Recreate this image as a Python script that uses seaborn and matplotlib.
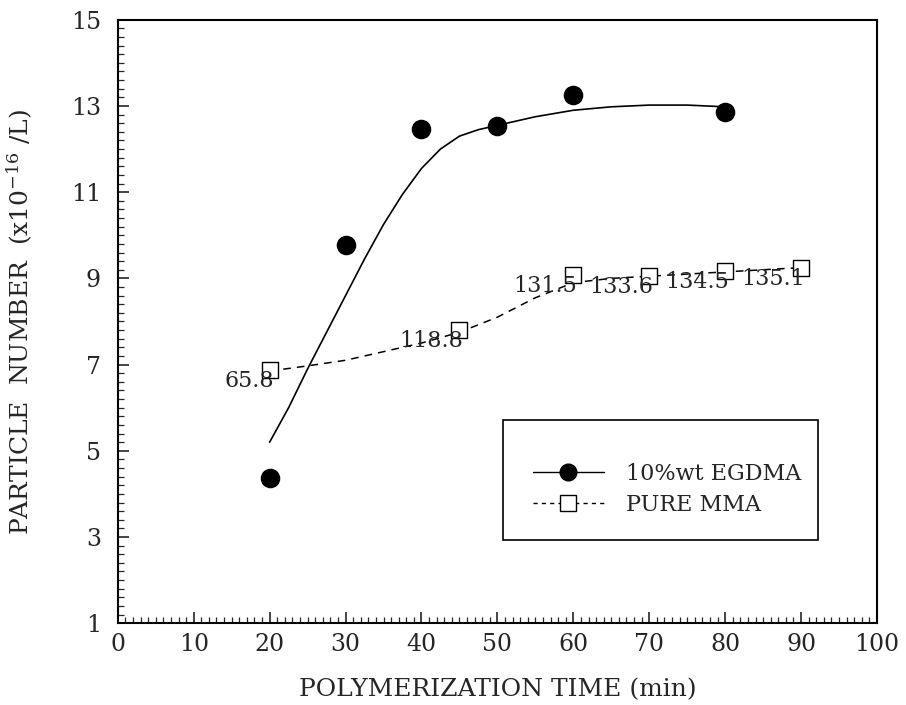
import matplotlib
matplotlib.use("Agg")
import matplotlib.pyplot as plt
import seaborn as sns
import pandas as pd
from matplotlib.ticker import MultipleLocator
from matplotlib.patches import Rectangle
from matplotlib.lines import Line2D

# ---- data ----
egdma_time = [20, 30, 40, 50, 60, 80]
egdma_number = [4.37, 9.78, 12.47, 12.54, 13.26, 12.86]

egdma_fit_time = [20, 22.5, 25, 27.5, 30, 32.5, 35, 37.5, 40, 42.5, 45, 47.5, 50, 55, 60, 65, 70, 75, 80]
egdma_fit_number = [5.2, 6.0, 6.9, 7.75, 8.6, 9.45, 10.25, 10.95, 11.55, 12.0, 12.3, 12.45, 12.55,
                    12.75, 12.9, 12.98, 13.02, 13.02, 12.98]

mma_time = [20, 45, 60, 70, 80, 90]
mma_number = [6.87, 7.8, 9.08, 9.05, 9.17, 9.24]
mma_labels = ["65.8", "118.8", "131.5", "133.6", "134.5", "135.1"]

mma_fit_time = [20, 25, 30, 35, 40, 45, 50, 55, 60, 65, 70, 75, 80, 85, 90]
mma_fit_number = [6.85, 6.97, 7.1, 7.3, 7.5, 7.75, 8.1, 8.55, 8.9, 9.0, 9.05, 9.1, 9.15, 9.2, 9.25]

x_ticks = [0, 10, 20, 30, 40, 50, 60, 70, 80, 90, 100]
y_ticks = [1, 3, 5, 7, 9, 11, 13, 15]

series_names = ["10%wt EGDMA", "PURE MMA"]

# ---- plotting ----
sns.set_style("ticks")
plt.rcParams["font.family"] = ["DejaVu Serif"]
plt.rcParams["mathtext.fontset"] = "dejavuserif"

fig = plt.figure(figsize=(9.06, 7.05), dpi=100)
ax = fig.add_axes([0.130, 0.116, 0.838, 0.856])

df_e = pd.DataFrame({"t": egdma_time, "n": egdma_number})
df_ef = pd.DataFrame({"t": egdma_fit_time, "n": egdma_fit_number})
df_m = pd.DataFrame({"t": mma_time, "n": mma_number})
df_mf = pd.DataFrame({"t": mma_fit_time, "n": mma_fit_number})

sns.lineplot(data=df_ef, x="t", y="n", ax=ax, color="black", linewidth=1.2, sort=False)
sns.lineplot(data=df_mf, x="t", y="n", ax=ax, color="black", linewidth=1.1, sort=False,
             linestyle=(0, (5, 4)))
sns.scatterplot(data=df_e, x="t", y="n", ax=ax, color="black", s=170, marker="o",
                edgecolor="black", zorder=5)
sns.scatterplot(data=df_m, x="t", y="n", ax=ax, facecolor="white", s=140, marker="s",
                edgecolor="black", linewidth=1.0, zorder=5)

for t, n, lab in zip(mma_time, mma_number, mma_labels):
    ax.annotate(lab, (t, n), xytext=(3, -8), textcoords="offset points",
                ha="right", va="center", fontsize=16, zorder=6)

ax.set_xlim(0, 100)
ax.set_ylim(1, 15)
ax.set_xticks(x_ticks)
ax.set_yticks(y_ticks)
ax.xaxis.set_minor_locator(MultipleLocator(1))
ax.yaxis.set_minor_locator(MultipleLocator(0.2))
ax.tick_params(axis="both", which="major", direction="in", length=8, width=1.2,
               labelsize=17, top=False, right=False, pad=7)
ax.tick_params(axis="y", which="major", pad=12)
ax.tick_params(axis="both", which="minor", direction="in", length=4, width=0.9,
               top=False, right=False)
for sp in ax.spines.values():
    sp.set_linewidth(1.5)
    sp.set_color("black")

ax.set_xlabel("POLYMERIZATION TIME (min)", fontsize=18, labelpad=16)
ax.set_ylabel("PARTICLE  NUMBER  (x10$^{\\mathregular{-16}}$ /L)", fontsize=18, labelpad=26)

# legend box
ax.add_patch(Rectangle((0.507, 0.138), 0.415, 0.199, transform=ax.transAxes,
                       facecolor="white", edgecolor="black", linewidth=1.2, zorder=7))
handles = [
    Line2D([], [], color="black", linewidth=1.0, marker="o", markersize=12,
           markerfacecolor="black"),
    Line2D([], [], color="black", linewidth=1.0, linestyle=(0, (3, 3)), marker="s",
           markersize=11, markerfacecolor="white"),
]
leg = ax.legend(handles, series_names, loc="lower left", bbox_to_anchor=(0.52, 0.145),
                frameon=False, fontsize=16, handlelength=3.2, handletextpad=1.0,
                labelspacing=0.4)
leg.set_zorder(8)

fig.savefig("out.png", dpi=100)
